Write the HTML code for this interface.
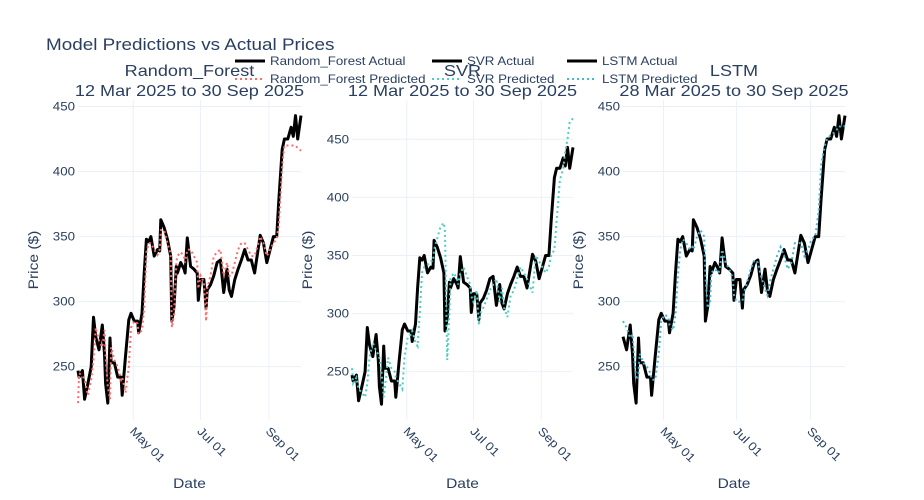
<!DOCTYPE html>
<html><head><meta charset="utf-8"><style>
html,body{margin:0;padding:0;background:#fff;}
svg{display:block;font-family:"Liberation Sans",sans-serif;}
</style></head><body>
<svg id="chart" width="924" height="500" viewBox="0 0 924 500"></svg>
<script>
const dayOffsets=[0,1,4,6,9,12,14,16,19,22,24,25,27,29,30,33,36,39,40,43,46,48,51,54,55,58,60,62,64,66,69,72,74,75,78,81,84,85,87,89,90,93,96,97,99,102,105,108,109,111,114,116,117,120,123,126,129,132,135,137,139,142,145,148,151,154,157,160,165,168,171,174,177,180,182,185,187,190,193,195,197,199,202];
const actual=[247,242,247,225,237,250,288,273,263,282,260,237,222,272,253,253,242,242,228,258,286,291,285,285,276,291,322,348,346,350,335,340,339,363,357,348,335,285,296,327,322,330,325,322,349,327,325,322,301,317,317,295,309,313,320,330,332,307,325,309,304,317,325,332,340,332,332,322,351,345,330,340,350,350,379,417,425,425,434,427,443,425,443];
const rfPred=[222,245,243,240,228,240,255,280,270,265,278,258,235,225,265,255,250,240,242,230,250,280,285,283,275,278,295,338,345,345,340,336,340,355,355,345,337,280,290,330,335,338,335,330,340,340,335,330,310,320,315,285,310,320,335,338,340,320,330,320,320,330,340,345,345,340,335,335,350,345,335,340,345,348,360,405,420,420,420,420,420,418,416];
const svrPred=[253,240,245,235,232,228,240,262,275,268,265,262,250,228,235,262,253,250,245,240,235,262,280,282,285,275,272,300,335,340,342,345,345,355,365,375,378,370,260,300,330,335,330,325,335,340,332,325,315,310,320,290,300,305,312,320,325,330,310,322,305,297,315,320,330,340,335,330,318,350,345,340,335,340,350,355,380,415,425,440,450,465,468];
const lstmPred=[null,null,null,null,null,null,null,285,280,272,275,262,240,245,260,253,250,245,240,240,260,285,290,288,282,278,290,320,340,348,345,340,342,340,350,355,350,320,295,300,322,325,322,325,340,330,325,318,305,300,300,300,305,315,325,332,330,318,310,305,315,325,335,342,335,325,330,345,345,335,340,348,350,370,405,420,425,428,430,432,435,434,435];
const yTicks=[250,300,350,400,450];
const xTickOffsets=[50,111,173];
const xTickLabels=["May 01","Jul 01","Sep 01"];
const panelNames=["Random_Forest","SVR","LSTM"];
const panelRanges=["12 Mar 2025 to 30 Sep 2025","12 Mar 2025 to 30 Sep 2025","28 Mar 2025 to 30 Sep 2025"];

const NS="http://www.w3.org/2000/svg";
const svg=document.getElementById('chart');
function mk(tag,attrs,parent,text){const e=document.createElementNS(NS,tag);for(const k in attrs)e.setAttribute(k,attrs[k]);if(text!=null)e.textContent=text;(parent||svg).appendChild(e);return e;}
const TXT="#2a3f5f";
const panels=[
 {x0:78,x1:301,d0:0,d1:202,y0:209,y1:455,pred:rfPred,color:"#FF6B6B",start:0},
 {x0:352,x1:573,d0:0,d1:202,y0:208.4,y1:483.8,pred:svrPred,color:"#4ECDC4",start:0},
 {x0:623,x1:845,d0:16,d1:202,y0:209,y1:455,pred:lstmPred,color:"#45B7D1",start:7}
];
const plotTop=100,plotBot=420;
let t=mk('text',{x:46,y:50,'font-size':17,fill:TXT},svg,"Model Predictions vs Actual Prices");


panels.forEach((p,i)=>{
 const g=mk('g',{});
 
 
 const xs=d=>p.x0+(d-p.d0)/(p.d1-p.d0)*(p.x1-p.x0);
 const ys=v=>plotBot-(v-p.y0)/(p.y1-p.y0)*(plotBot-plotTop);
 yTicks.forEach(v=>{const y=ys(v);if(y<plotTop||y>plotBot)return;
  const l=mk('line',{x1:p.x0,x2:p.x1,y1:y,y2:y,stroke:"#EBF0F8","stroke-width":1},g);
  
  
  const tx=mk('text',{x:p.x0-3,y:y+4,'font-size':12,fill:TXT,'text-anchor':'end'},g,String(v));
  
  });
 xTickOffsets.forEach((d,k)=>{const x=xs(d);
  const l=mk('line',{x1:x,x2:x,y1:plotTop,y2:plotBot,stroke:"#EBF0F8","stroke-width":1},g);
  
  
  const tx=mk('text',{x:x-4,y:plotBot+12,'font-size':12,fill:TXT,transform:`rotate(45 ${x-4} ${plotBot+12})`},g,xTickLabels[k]);
  
  });
 const cx=(p.x0+p.x1)/2;
 let a=mk('text',{x:cx,y:488,'font-size':14,fill:TXT,'text-anchor':'middle'},g,"Date");
 
 
 const yx=p.x0-40;
 a=mk('text',{x:yx,y:260,'font-size':14,fill:TXT,'text-anchor':'middle',transform:`rotate(-90 ${yx} 260)`},g,"Price ($)");
 
 
 a=mk('text',{x:cx,y:76,'font-size':16,fill:TXT,'text-anchor':'middle','data-w':1.13},g,panelNames[i]);
 
 
 a=mk('text',{x:cx,y:96,'font-size':16,fill:TXT,'text-anchor':'middle','data-w':1.13},g,panelRanges[i]);
 
 
 let ptsA=[],ptsP=[];
 for(let j=p.start;j<dayOffsets.length;j++){ptsA.push(xs(dayOffsets[j]).toFixed(1)+","+ys(actual[j]).toFixed(1));
  if(p.pred[j]!=null)ptsP.push(xs(dayOffsets[j]).toFixed(1)+","+ys(p.pred[j]).toFixed(1));}
 const la=mk('polyline',{points:ptsA.join(" "),fill:"none",stroke:"#000","stroke-width":3,"stroke-linejoin":"round"},g);
 
 
 const lp=mk('polyline',{points:ptsP.join(" "),fill:"none",stroke:p.color,"stroke-width":2,"stroke-dasharray":"2,3"},g);
 
 
});
const legX=[235,432,567];
const legend=mk('g',{});


panelNames.forEach((n,i)=>{
 const x=legX[i];
 const e1=mk('g',{},legend);
 
 
 mk('line',{x1:x,x2:x+30,y1:61,y2:61,stroke:"#000","stroke-width":3},e1);
 mk('text',{x:x+35,y:65,'font-size':12,fill:TXT},e1,n+" Actual");
 const e2=mk('g',{},legend);
 
 
 mk('line',{x1:x,x2:x+30,y1:79,y2:79,stroke:panels[i].color,"stroke-width":2,"stroke-dasharray":"2,3"},e2);
 mk('text',{x:x+35,y:83,'font-size':12,fill:TXT},e2,n+" Predicted");
});
svg.querySelectorAll('text').forEach(el=>{
 const f=parseFloat(el.getAttribute('data-w')||'1.11');
 const w=el.getComputedTextLength();
 if(w>0){el.setAttribute('textLength',(w*f).toFixed(1));el.setAttribute('lengthAdjust','spacingAndGlyphs');}
});
</script>
</body></html>
